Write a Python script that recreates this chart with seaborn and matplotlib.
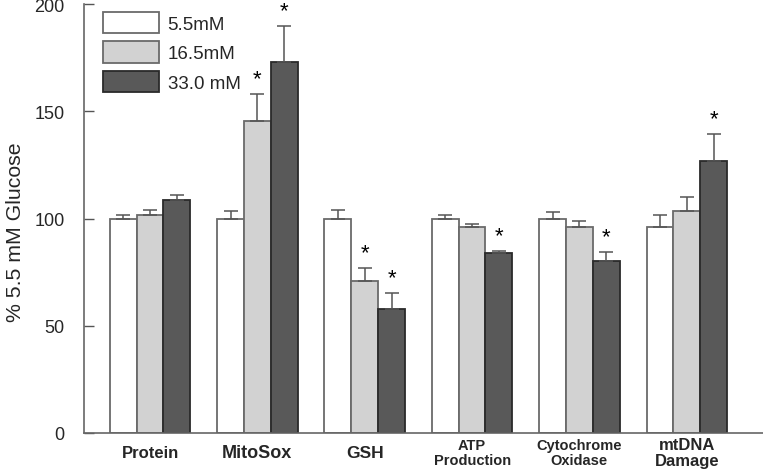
import matplotlib
matplotlib.use("Agg")
import matplotlib.pyplot as plt
from matplotlib.container import BarContainer
import seaborn as sns
import pandas as pd
import numpy as np

categories = ["Protein", "MitoSox", "GSH", "ATP\nProduction", "Cytochrome\nOxidase", "mtDNA\nDamage"]
series = ["5.5mM", "16.5mM", "33.0 mM"]
vals_55 = [100.0, 100.0, 100.0, 100.0, 100.0, 95.9]
vals_165 = [101.4, 145.6, 71.0, 96.2, 95.9, 103.5]
vals_330 = [108.4, 172.8, 57.8, 83.8, 80.3, 126.9]
err_55 = [1.7, 3.4, 4.0, 1.5, 3.2, 5.7]
err_165 = [2.5, 12.6, 6.0, 1.4, 2.9, 6.5]
err_330 = [2.6, 16.8, 7.5, 1.2, 4.2, 12.7]
sig_55 = [False, False, False, False, False, False]
sig_165 = [False, True, True, False, False, False]
sig_330 = [False, True, True, True, True, True]
yticks = [0, 50, 100, 150, 200]
label_sizes = [12, 13, 12.5, 10.5, 10.5, 12]

sns.set_theme(style="white")
plt.rcParams['font.family'] = ['Liberation Sans', 'DejaVu Sans']

rows = []
for c, a, b, d in zip(categories, vals_55, vals_165, vals_330):
    rows.append({"cat": c, "conc": series[0], "val": a})
    rows.append({"cat": c, "conc": series[1], "val": b})
    rows.append({"cat": c, "conc": series[2], "val": d})
df = pd.DataFrame(rows)

colors = ["#ffffff", "#d2d2d2", "#595959"]
edges = ["#6a6a6a", "#6a6a6a", "#2a2a2a"]

fig = plt.figure(figsize=(7.63, 4.77), dpi=100)
ax = fig.add_axes([84/763, 1-434/477, 1-84/763, (434-5)/477])

sns.barplot(data=df, x="cat", y="val", hue="conc", order=categories,
            hue_order=series, palette=colors, width=0.75, gap=0,
            errorbar=None, ax=ax, legend=True, linewidth=1.3, saturation=1)

errs = [err_55, err_165, err_330]
vals = [vals_55, vals_165, vals_330]
sigs = [sig_55, sig_165, sig_330]
bar_conts = [c for c in ax.containers if isinstance(c, BarContainer)]
for k, cont in enumerate(bar_conts):
    for i, p in enumerate(cont.patches):
        p.set_edgecolor(edges[k])
        xc = p.get_x() + p.get_width()/2
        top = vals[k][i]
        ax.errorbar([xc], [top], yerr=[[0], [errs[k][i]]], fmt="none",
                    ecolor="#555555", elinewidth=1.1, capsize=4.8, capthick=1.1, zorder=1)
        if sigs[k][i]:
            ax.annotate("*", (xc, top + errs[k][i]), xytext=(0, 11),
                        textcoords="offset points", ha="center", va="center",
                        fontsize=16, color="black")

ax.set_xlim(-0.615, 5.71)
ax.set_ylim(0, 200)
ax.set_yticks(yticks)
ax.set_yticklabels([str(t) for t in yticks], fontsize=13)
ax.set_xlabel("")
ax.set_ylabel("% 5.5 mM Glucose", fontsize=15.3)
ax.yaxis.set_label_coords(-0.087, 0.47)
ax.tick_params(axis="y", direction="in", length=7, width=1, color="#555555", pad=14, left=True)
ax.tick_params(axis="x", length=0, pad=14)
ax.set_xticks(range(len(categories)))
ax.set_xticklabels(categories, fontweight="bold")
for lab, s in zip(ax.get_xticklabels(), label_sizes):
    lab.set_fontsize(s)
    lab.set_linespacing(1.05)
    lab.set_verticalalignment("center")

for side in ["top", "right"]:
    ax.spines[side].set_visible(False)
for side in ["left", "bottom"]:
    ax.spines[side].set_color("#666666")
    ax.spines[side].set_linewidth(1.2)

handles, labels = ax.get_legend_handles_labels()
for h, e in zip(handles, edges):
    h.set_edgecolor(e)
ax.legend(handles, labels, loc="upper left", bbox_to_anchor=(19/679, 1-8/429),
          frameon=False, fontsize=13.5, handlelength=3.0, handleheight=1.35,
          handletextpad=0.45, labelspacing=0.45, borderpad=0, borderaxespad=0)

fig.savefig("out.png", dpi=100)
